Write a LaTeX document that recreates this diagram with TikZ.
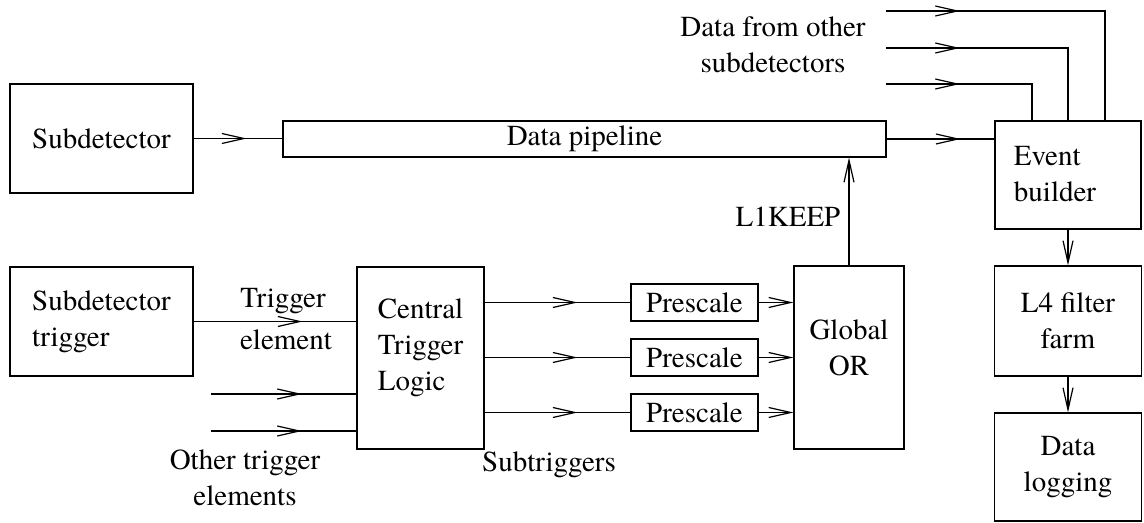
\documentclass[tikz,border=0pt]{standalone}
\usepackage{fontspec}
\setmainfont{texgyretermes}[Extension=.otf,UprightFont=*-regular]
\usetikzlibrary{arrows.meta,decorations.markings}

\begin{document}
\begin{tikzpicture}[x=0.5pt,y=-0.5pt,
    font=\fontsize{14.5}{18}\selectfont,
    line width=0.6pt, >={Straight Barb[length=11pt,width=5pt]},
    box/.style 2 args={draw,minimum width=#1,minimum height=#2,inner sep=0pt,align=center},
    midarr/.style={postaction={decorate},
      decoration={markings,mark=at position #1 with {\arrow{>}}}}]
  \useasboundingbox (0,0) rectangle (1144,523);

  %%%%% boxes %%%%%
  \node[box={91.5pt}{54.5pt}] (sub) at (101.5,138.5) {Subdetector};
  \node[box={301.5pt}{18pt}] (pipe) at (584.5,139) {Data pipeline};
  \node[box={91.5pt}{54.5pt},align=left] (subtrig) at (101.5,321.5) {Subdetector\\trigger};

  \node[box={63.5pt}{91pt}] (ctl) at (420.5,358) {};
  \node[align=left] (ctltext) at (420.5,348) {Central\\Trigger\\Logic};

  \foreach \i/\y in {1/302.5,2/357.5,3/412.5}
    \node[box={63.5pt}{18.5pt}] (pre\i) at (694.5,\y) {Prescale};

  \node[box={55pt}{91.5pt}] (or) at (849,357.5) {};
  \node[align=center] (ortext) at (849,348) {Global\\OR};

  \node[box={73pt}{54pt}] (eb) at (1068,175) {};
  \node[align=left] (ebtext) at (1055,174) {Event\\builder};
  \node[box={73.5pt}{55pt}] (l4) at (1068,321) {L4 filter\\farm};
  \node[box={73.5pt}{54pt}] (log) at (1068,467) {Data\\logging};

  %%%%% labels %%%%%
  \node[anchor=base] (trigtop) at (283,307) {Trigger};
  \node[anchor=base] (trigbot) at (286,350) {element};
  \node[align=center] (othtext) at (245,478) {Other trigger\\elements};
  \node[anchor=base] (subtrigs) at (549,471) {Subtriggers};
  \node (l1keep) at (788,217) {L1KEEP};
  \node[align=center] (others) at (773,45) {Data from other\\subdetectors};

  %%%%% connectors %%%%%
  \draw[midarr=26.5pt] (sub.east) -- (sub.east -| pipe.west);
  \draw[midarr=54.5pt] (subtrig.east) -- (subtrig.east -| ctl.west);

  \coordinate (oth1) at (211,394);
  \coordinate (oth2) at (211,431);
  \draw[midarr=45.5pt] (oth1) -- (oth1 -| ctl.west);
  \draw[midarr=45.5pt] (oth2) -- (oth2 -| ctl.west);

  \foreach \i in {1,2,3} {
    \draw[midarr=46.5pt] (pre\i.west -| ctl.east) -- (pre\i.west);
    \draw[->] (pre\i.east) -- (pre\i.east -| or.west);
  }

  \draw[->] (or.north) -- (or.north |- pipe.south);
  \draw[midarr=37pt] (pipe.east) -- (pipe.east -| eb.west);

  \coordinate (in1) at (886,11);
  \coordinate (in2) at (886,48);
  \coordinate (in3) at (886,84);
  \draw[midarr=37pt] (in1) -| ([xshift=18.5pt]eb.north);
  \draw[midarr=37pt] (in2) -| (eb.north);
  \draw[midarr=37pt] (in3) -| ([xshift=-18pt]eb.north);

  \draw[->] (eb) -- (l4);
  \draw[->] (l4) -- (log);
\end{tikzpicture}
\end{document}
